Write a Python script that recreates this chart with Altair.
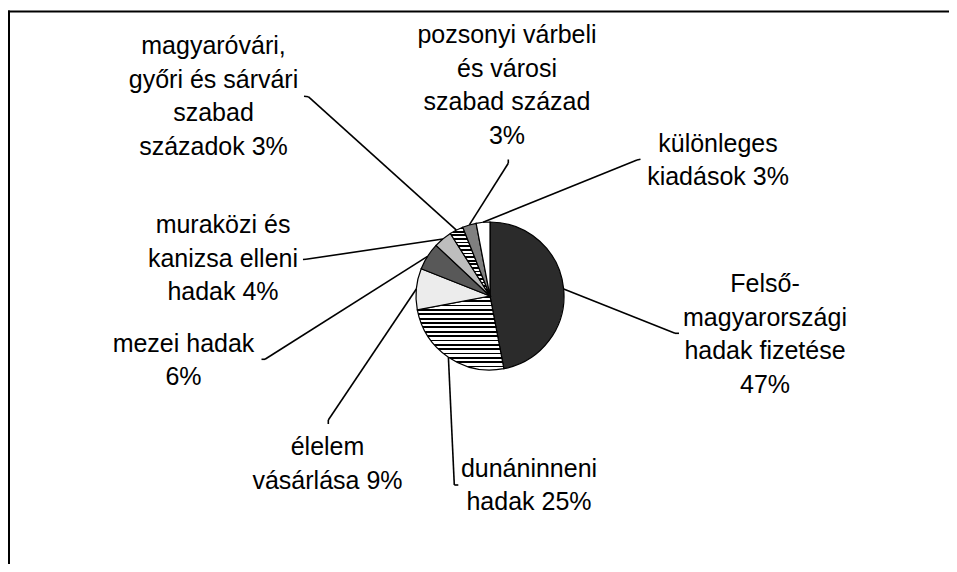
import math
import altair as alt

# ---- data ----
categories = [
    "Felső-magyarországi hadak fizetése",
    "dunáninneni hadak",
    "élelem vásárlása",
    "mezei hadak",
    "muraközi és kanizsa elleni hadak",
    "magyaróvári, győri és sárvári szabad századok",
    "pozsonyi várbeli és városi szabad század",
    "különleges kiadások",
]
values = [47, 25, 9, 6, 4, 3, 3, 3]
label_lines = [
    ["Felső-", "magyarországi", "hadak fizetése", "47%"],
    ["dunáninneni", "hadak 25%"],
    ["élelem", "vásárlása 9%"],
    ["mezei hadak", "6%"],
    ["muraközi és", "kanizsa elleni", "hadak 4%"],
    ["magyaróvári,", "győri és sárvári", "szabad", "századok 3%"],
    ["pozsonyi várbeli", "és városi", "szabad század", "3%"],
    ["különleges", "kiadások 3%"],
]

# ---- layout (pixels inside the chart) ----
W, H = 941, 556
CX, CY, R = 482, 288, 74
label_anchor = [(757, 284), (521, 468.7), (319.5, 447), (175.5, 343.7),
                (215, 225), (205.5, 46), (499, 35.2), (710, 143.5)]
elbow = [(667, 325.3), (446.3, 477), (320.3, 412), (257, 351.3),
         (298, 251.3), (300.3, 88.7), (500.3, 155.3), (629, 152)]
tick_end = [(671, 325.3), (450.3, 477), (320.3, 416), (253.5, 351.3),
            (295, 251.5), (296, 88.3), (500.3, 151.5), (632.5, 151.3)]


def stripes(n, dark):
    stops = []
    for i in range(n):
        a, b, c = i / n, (i + dark) / n, (i + 1) / n
        stops += [
            {"offset": round(a, 5), "color": "black"},
            {"offset": round(b, 5), "color": "black"},
            {"offset": round(b, 5), "color": "white"},
            {"offset": round(c, 5), "color": "white"},
        ]
    return alt.LinearGradient(gradient="linear", x1=0, y1=0, x2=0, y2=1, stops=stops)


fills = ["#2b2b2b", stripes(17, 0.4), "#ececec", "#585858", "#bdbdbd",
         stripes(19, 0.5), "#808080", "#ffffff"]

records = []
for i, (c, v, ln) in enumerate(zip(categories, values, label_lines)):
    records.append({
        "order": i, "cat": c, "value": v, "lines": ln,
        "lx": label_anchor[i][0], "ly": label_anchor[i][1],
        "bx": elbow[i][0], "by": elbow[i][1],
        "tx": tick_end[i][0], "ty": tick_end[i][1],
    })

base = (
    alt.Chart(alt.Data(values=records))
    .transform_joinaggregate(total="sum(value)")
    .transform_window(cum="sum(value)", sort=[alt.SortField("order")], frame=[None, 0])
    .transform_calculate(
        f0="(datum.cum - datum.value) / datum.total",
        f1="datum.cum / datum.total",
        fm="(datum.cum - datum.value / 2) / datum.total",
    )
    .transform_calculate(
        ex=f"{CX} + {R} * sin(2 * PI * datum.fm)",
        ey=f"{CY} - {R} * cos(2 * PI * datum.fm)",
    )
)

theta_scale = alt.Scale(domain=[0, 1], range=[0, 2 * math.pi])

arcs = []
for c, f in zip(categories, fills):
    arcs.append(
        base.transform_filter(alt.datum.cat == c)
        .mark_arc(fill=f, stroke="black", strokeWidth=1.2, radius=R)
        .encode(
            theta=alt.Theta("f0:Q", scale=theta_scale, stack=None),
            theta2=alt.Theta2("f1:Q"),
            x=alt.value(CX),
            y=alt.value(CY),
        )
    )

one = alt.Chart(alt.Data(values=[{"k": 0}]))
frame_top = one.mark_rule(color="black", strokeWidth=2).encode(
    x=alt.value(0), x2=alt.value(W + 20), y=alt.value(3.5), y2=alt.value(3.5))
frame_left = one.mark_rule(color="black", strokeWidth=2).encode(
    x=alt.value(1), x2=alt.value(1), y=alt.value(2.5), y2=alt.value(H + 20))

lead = base.mark_rule(color="black", strokeWidth=1.6).encode(
    x=alt.X("ex:Q", scale=None, axis=None),
    y=alt.Y("ey:Q", scale=None, axis=None),
    x2=alt.X2("bx:Q"),
    y2=alt.Y2("by:Q"),
)
tick = base.mark_rule(color="black", strokeWidth=1.6).encode(
    x=alt.X("bx:Q", scale=None, axis=None),
    y=alt.Y("by:Q", scale=None, axis=None),
    x2=alt.X2("tx:Q"),
    y2=alt.Y2("ty:Q"),
)
labels = base.mark_text(
    align="center", baseline="alphabetic", fontSize=25, font="Liberation Sans",
    lineHeight=33.5, color="black",
).encode(
    x=alt.X("lx:Q", scale=None, axis=None),
    y=alt.Y("ly:Q", scale=None, axis=None),
    text=alt.Text("lines:N"),
)

chart = (
    alt.layer(frame_top, frame_left, *arcs, lead, tick, labels)
    .properties(width=W, height=H, padding=0, autosize=alt.AutoSizeParams(type="none"),
                background="white")
    .configure_view(strokeWidth=0, strokeOpacity=0)
)

chart.save("out.html", embed_options={"renderer": "svg", "actions": False})
